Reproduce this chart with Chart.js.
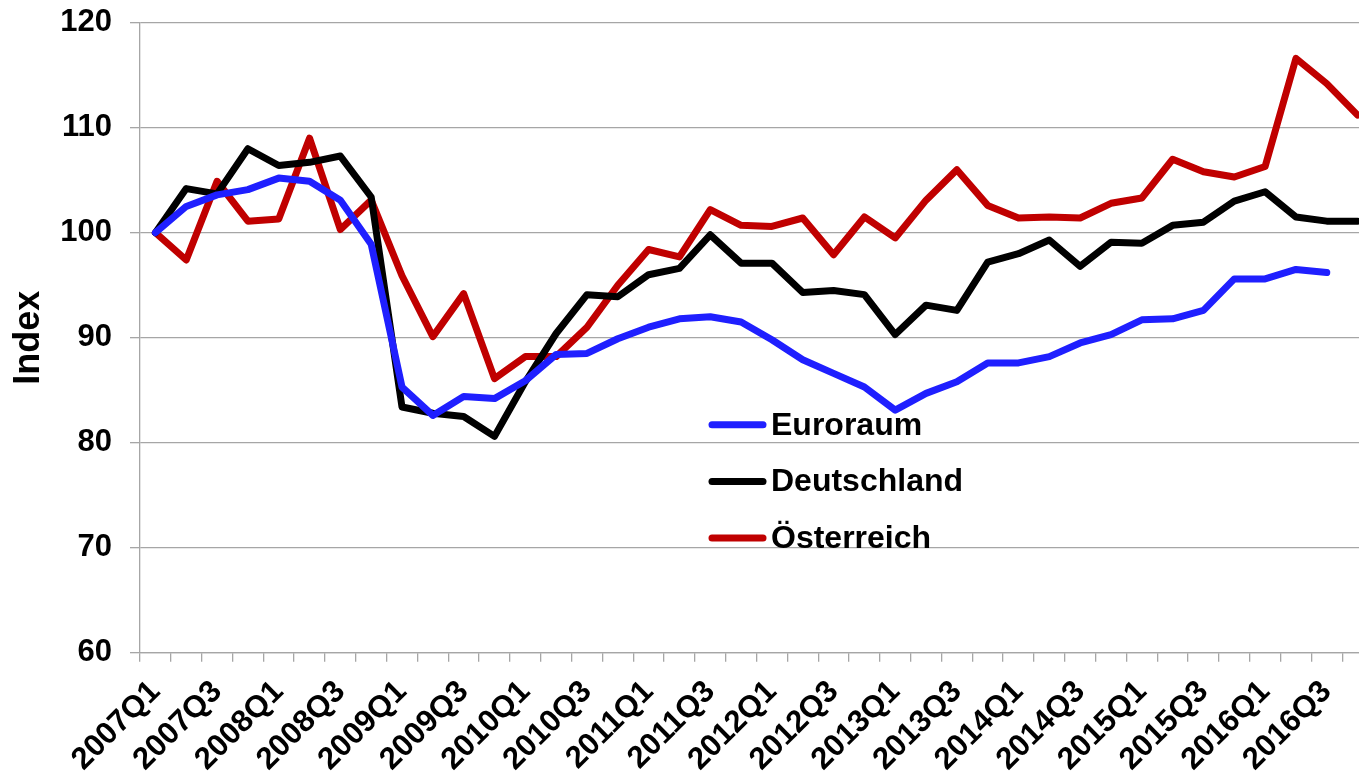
<!DOCTYPE html>
<html lang="de">

<head>
  <meta charset="UTF-8">
  <title>Index Euroraum Deutschland Österreich</title>
  <style>
    body { margin: 0; background: #fff; overflow: hidden; }
    #wrap { position: absolute; left: 0; top: 0; }
  </style>
</head>

<body>
  <div id="wrap">
    <canvas id="myChart" width="1373" height="776"></canvas>
  </div>
  <script src="https://cdn.jsdelivr.net/npm/chart.js"></script>
  <script>
    // quarters shown on the x axis
    const quarters = ['2007Q1', '2007Q2', '2007Q3', '2007Q4', '2008Q1', '2008Q2', '2008Q3', '2008Q4',
      '2009Q1', '2009Q2', '2009Q3', '2009Q4', '2010Q1', '2010Q2', '2010Q3', '2010Q4',
      '2011Q1', '2011Q2', '2011Q3', '2011Q4', '2012Q1', '2012Q2', '2012Q3', '2012Q4',
      '2013Q1', '2013Q2', '2013Q3', '2013Q4', '2014Q1', '2014Q2', '2014Q3', '2014Q4',
      '2015Q1', '2015Q2', '2015Q3', '2015Q4', '2016Q1', '2016Q2', '2016Q3', '2016Q4'];

    const euroraum = [100, 102.5, 103.6, 104.1, 105.2, 104.9, 103.1, 98.9, 85.3, 82.6,
      84.4, 84.2, 85.9, 88.4, 88.5, 89.9, 91.0, 91.8, 92.0, 91.5,
      89.8, 87.9, 86.6, 85.3, 83.1, 84.7, 85.8, 87.6, 87.6, 88.2,
      89.5, 90.3, 91.7, 91.8, 92.6, 95.6, 95.6, 96.5, 96.2, null];

    const deutschland = [100, 104.2, 103.7, 108.0, 106.4, 106.7, 107.3, 103.4, 83.4, 82.8,
      82.5, 80.6, 85.8, 90.4, 94.1, 93.9, 96.0, 96.6, 99.8, 97.1,
      97.1, 94.3, 94.5, 94.1, 90.3, 93.1, 92.6, 97.2, 98.0, 99.3,
      96.8, 99.1, 99.0, 100.7, 101.0, 103.0, 103.9, 101.5, 101.1, 101.1];

    const oesterreich = [100, 97.4, 104.9, 101.1, 101.3, 109.0, 100.3, 103.1, 95.9, 90.1,
      94.2, 86.1, 88.2, 88.2, 91.0, 95.0, 98.4, 97.7, 102.2, 100.7,
      100.6, 101.4, 97.9, 101.5, 99.5, 103.1, 106.0, 102.6, 101.4, 101.5,
      101.4, 102.8, 103.3, 107.0, 105.8, 105.3, 106.3, 116.6, 114.2, 111.2];

    const yTicks = [60, 70, 80, 90, 100, 110, 120];

    const FONT = '"Liberation Sans", Arial, sans-serif';
    const GRID = '#a6a6a6';

    // legend drawn inside the plot, lines + text like the original
    const innerLegend = {
      id: 'innerLegend',
      afterDatasetsDraw(chart) {
        const c = chart.ctx;
        const area = chart.chartArea;
        const x0 = area.left + 568;
        let y = area.top + 402;
        c.save();
        c.font = 'bold 32px ' + FONT;
        c.textBaseline = 'middle';
        c.textAlign = 'left';
        chart.data.datasets.forEach(ds => {
          c.strokeStyle = ds.borderColor;
          c.lineWidth = 7;
          c.lineCap = 'round';
          c.beginPath();
          c.moveTo(x0 + 4, y);
          c.lineTo(x0 + 55, y);
          c.stroke();
          c.fillStyle = '#000';
          c.fillText(ds.label, x0 + 63, y + 1);
          y += 56.7;
        });
        c.restore();
      }
    };

    const ctx = document.getElementById('myChart');

    new Chart(ctx, {
      type: 'line',
      data: {
        labels: quarters,
        datasets: [{
          label: 'Euroraum',
          data: euroraum,
          borderColor: '#1f1fff',
          borderWidth: 7
        }, {
          label: 'Deutschland',
          data: deutschland,
          borderColor: '#000000',
          borderWidth: 7
        }, {
          label: 'Österreich',
          data: oesterreich,
          borderColor: '#c00000',
          borderWidth: 7
        }]
      },
      options: {
        responsive: false,
        animation: false,
        layout: { padding: { top: 22.7, right: 0, bottom: 0, left: 0 } },
        elements: {
          point: { radius: 0 },
          line: { tension: 0, borderJoinStyle: 'round', borderCapStyle: 'round', fill: false }
        },
        plugins: {
          legend: { display: false },
          tooltip: { enabled: false }
        },
        scales: {
          x: {
            type: 'category',
            offset: true,
            grid: { offset: true, drawOnChartArea: false, drawTicks: true, tickLength: 9, color: GRID, lineWidth: 1.3 },
            border: { color: GRID, width: 1.3 },
            ticks: {
              autoSkip: false,
              maxRotation: 45,
              minRotation: 45,
              padding: 12,
              color: '#000',
              font: { family: FONT, size: 31, weight: 'bold' },
              callback: function (val, i) { return i % 2 === 0 ? this.getLabelForValue(val) : ''; }
            },
            afterFit(scale) {
              scale.height = 776 - 652.7;
              scale.paddingLeft = 0;
              scale.paddingRight = 0;
            }
          },
          y: {
            min: 60,
            max: 120,
            afterBuildTicks(scale) { scale.ticks = yTicks.map(v => ({ value: v })); },
            grid: { color: GRID, lineWidth: 1.3, tickLength: 10 },
            border: { color: GRID, width: 1.3 },
            ticks: {
              padding: 18,
              color: '#000',
              font: { family: FONT, size: 31, weight: 'bold' }
            },
            title: {
              display: true,
              text: 'Index',
              color: '#000',
              padding: { top: 7, bottom: 0 },
              font: { family: FONT, size: 36, weight: 'bold' }
            },
            afterFit(scale) {
              scale.width = 140;
              scale.paddingTop = 0;
              scale.paddingBottom = 0;
            }
          }
        }
      },
      plugins: [innerLegend]
    });
  </script>
</body>

</html>
